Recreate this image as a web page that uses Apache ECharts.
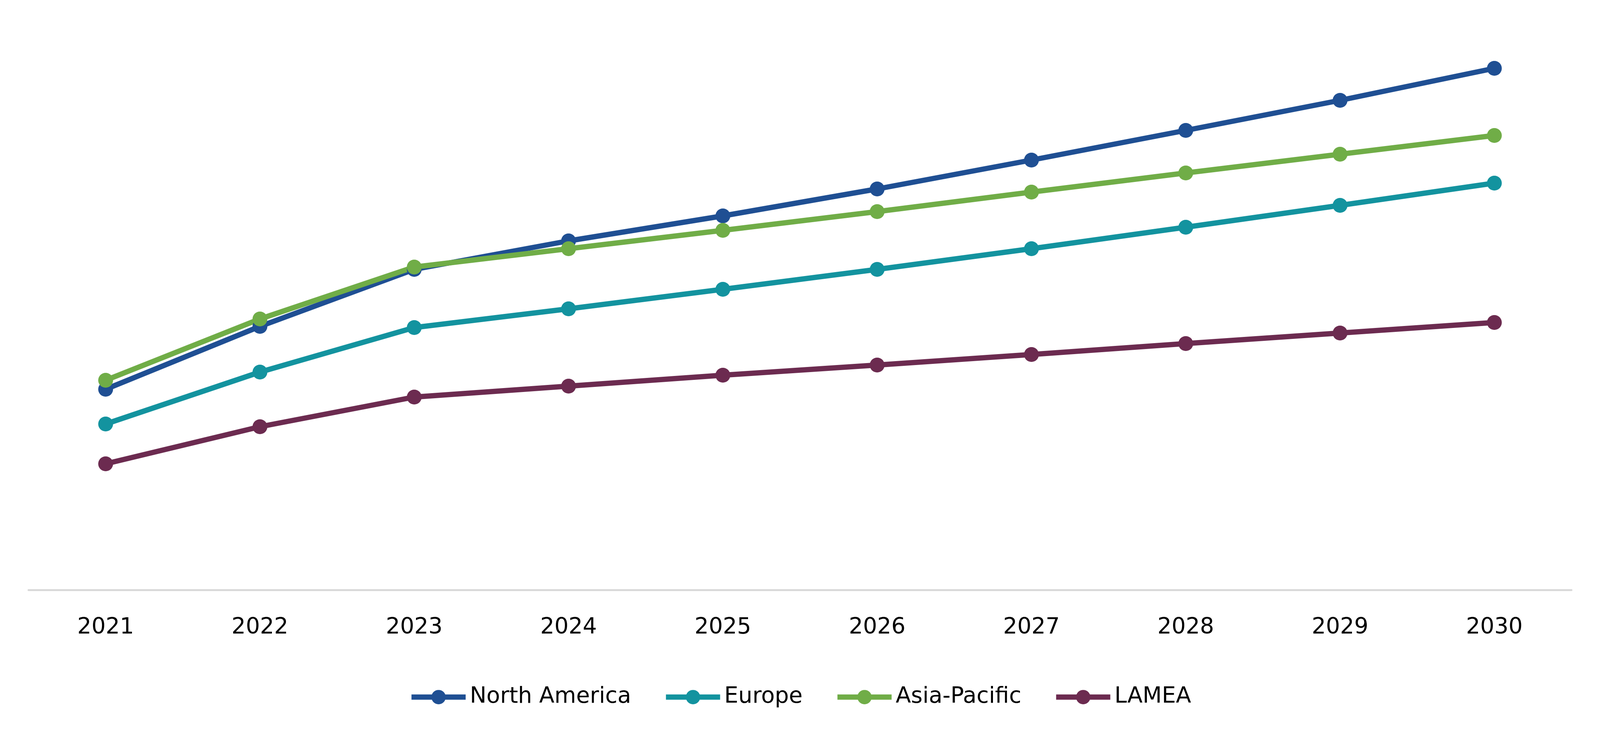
<!DOCTYPE html>
<html>
<head>
<meta charset="utf-8">
<script src="https://cdn.jsdelivr.net/npm/echarts@6/dist/echarts.min.js"></script>
<style>
  html, body { margin: 0; padding: 0; background: #fff; overflow: hidden; }
  #container { width: 100vw; height: 100vh; }
</style>
</head>
<body>
<div id="container"></div>
<script>
var years = ['2021', '2022', '2023', '2024', '2025', '2026', '2027', '2028', '2029', '2030'];
var northAmerica = [5.14, 6.75, 8.21, 8.94, 9.58, 10.27, 11.01, 11.77, 12.54, 13.36];
var europe = [4.25, 5.58, 6.72, 7.20, 7.70, 8.21, 8.74, 9.29, 9.85, 10.42];
var asiaPacific = [5.37, 6.94, 8.27, 8.74, 9.21, 9.69, 10.19, 10.68, 11.16, 11.64];
var lamea = [3.23, 4.18, 4.94, 5.22, 5.50, 5.76, 6.03, 6.31, 6.58, 6.85];

var dom = document.getElementById("container");
var myChart = echarts.init(dom);
// layout measured on the 5168x1898 picture, scaled to whatever the viewport is
var sx = dom.clientWidth / 5168;
var sy = dom.clientHeight / 1898;

function makeLine(name, data, color) {
    return {
        name: name,
        type: 'line',
        data: data,
        symbol: 'circle',
        symbolSize: 48 * sx,
        lineStyle: { width: 17 * sx, color: color },
        itemStyle: { color: color },
        animation: false
    };
}

var option = {
    backgroundColor: '#ffffff',
    textStyle: { fontFamily: 'DejaVu Sans' },
    grid: {
        left: 92 * sx,
        right: 92 * sx,
        top: 11 * sy,
        bottom: 387 * sy
    },
    legend: {
        top: 1775 * sy - 29 * sx,
        left: 'center',
        itemWidth: 175 * sx,
        itemHeight: 58 * sx,
        itemGap: 104 * sx,
        lineStyle: { width: 17 * sx },
        textStyle: {
            fontSize: 72 * sx,
            color: '#000000',
            fontFamily: 'DejaVu Sans',
            padding: [0, 0, 0, 7 * sx]
        },
        data: ['North America', 'Europe', 'Asia-Pacific', 'LAMEA']
    },
    xAxis: {
        type: 'category',
        boundaryGap: true,
        data: years,
        axisLine: { lineStyle: { color: '#d9d9d9', width: 6 * sx } },
        axisTick: { show: false },
        axisLabel: {
            fontSize: 72 * sx,
            color: '#000000',
            fontFamily: 'DejaVu Sans',
            margin: 97 * sy - 36 * sx
        }
    },
    yAxis: {
        type: 'value',
        min: 0,
        max: 15,
        show: false,
        splitLine: { show: false }
    },
    series: [
        makeLine('North America', northAmerica, '#1F4F93'),
        makeLine('Europe', europe, '#13939F'),
        makeLine('Asia-Pacific', asiaPacific, '#70AD47'),
        makeLine('LAMEA', lamea, '#6C2B50')
    ]
};
myChart.setOption(option, true);
</script>
</body>
</html>
